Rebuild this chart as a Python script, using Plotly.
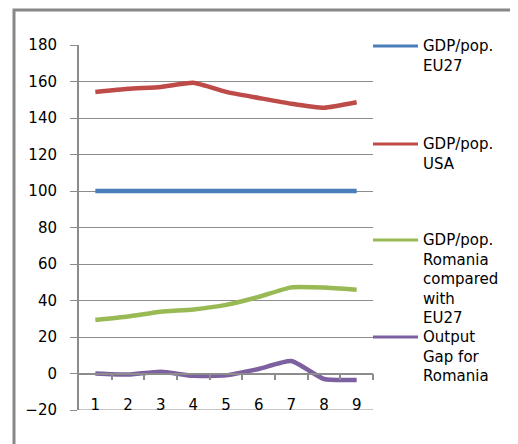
import plotly.graph_objects as go

periods = [1, 2, 3, 4, 5, 6, 7, 8, 9]
eu27 = [100, 100, 100, 100, 100, 100, 100, 100, 100]
usa = [154.2, 156, 157, 159.3, 154.3, 151, 147.8, 145.6, 148.6]
romania = [29.3, 31.2, 33.8, 35.1, 37.6, 42, 47.2, 47.1, 45.9]
output_gap = [0, -0.6, 1, -1.3, -1, 2.5, 6.8, -3, -3.5]

names = ["GDP/pop.<br>EU27",
         "GDP/pop.<br>USA",
         "GDP/pop.<br>Romania<br>compared<br>with<br>EU27",
         "Output<br>Gap for<br>Romania"]
colors = ["#4a7ebb", "#be4b48", "#98b954", "#7d60a0"]
series = [eu27, usa, romania, output_gap]
legend_y_px = [46, 144, 240, 337]  # legend entry positions (pixels from top of window)

OFF = 8  # page body margin
W, H = 518, 444
L, T = 79 - OFF, 45 - OFF
pw, ph = 294, 365
R = W - L - pw
B = H - T - ph

def px_x(px):
    return (px - OFF - L) / pw

def px_y(py):
    return (T + ph - (py - OFF)) / ph

fig = go.Figure()
for nm, col, vals in zip(names, colors, series):
    fig.add_trace(go.Scatter(x=periods, y=vals, name=nm, mode="lines", showlegend=False,
                             line=dict(color=col, width=4.5, shape="spline", smoothing=0.5)))
# dummy trace to realise the zero-line axis
fig.add_trace(go.Scatter(x=periods, y=eu27, xaxis="x2", mode="lines",
                         line=dict(width=0), showlegend=False, hoverinfo="skip"))

grid = "#8c8c8c"
font = dict(family="DejaVu Sans", size=15, color="#000")

shapes = [dict(type="rect", xref="paper", yref="paper", x0=px_x(14), y0=-1, x1=3, y1=px_y(10),
               line=dict(color="#888888", width=3), layer="below"),
          dict(type="line", xref="paper", yref="y", x0=0, x1=1, y0=-20, y1=-20,
               line=dict(color=grid, width=1.2), layer="below")]
annotations = []
for nm, col, ly in zip(names, colors, legend_y_px):
    shapes.append(dict(type="line", xref="paper", yref="paper",
                       x0=px_x(373), x1=px_x(418), y0=px_y(ly), y1=px_y(ly),
                       line=dict(color=col, width=3)))
    annotations.append(dict(xref="paper", yref="paper", x=px_x(421), y=px_y(ly - 11),
                            xanchor="left", yanchor="top", align="left", showarrow=False,
                            text=nm, font=font))

fig.update_layout(
    width=W, height=H,
    margin=dict(l=L, r=R, t=T, b=B),
    paper_bgcolor="white", plot_bgcolor="white",
    font=font,
    showlegend=False,
    xaxis=dict(range=[0.5, 9.5], tickvals=periods, ticktext=[str(p) for p in periods],
               anchor="free", position=0.044,
               showgrid=False, zeroline=False, showline=False,
               ticks="", tickfont=font),
    xaxis2=dict(overlaying="x", matches="x", anchor="free", position=0.1,
                range=[0.5, 9.5], tickvals=[1.5, 2.5, 3.5, 4.5, 5.5, 6.5, 7.5, 8.5, 9.5],
                showticklabels=False, ticks="outside", ticklen=6, tickcolor=grid,
                tickwidth=1.5, showline=True, linecolor=grid, linewidth=1.5,
                showgrid=False, zeroline=False),
    yaxis=dict(range=[-20, 180], dtick=20, showgrid=True, gridcolor=grid, gridwidth=1,
               zeroline=False, showline=True, linecolor=grid, linewidth=2,
               ticks="outside", ticklen=7, tickcolor=grid, tickfont=font,
               ticklabelstandoff=10),
    shapes=shapes,
    annotations=annotations,
)
fig.write_html("out.html")
